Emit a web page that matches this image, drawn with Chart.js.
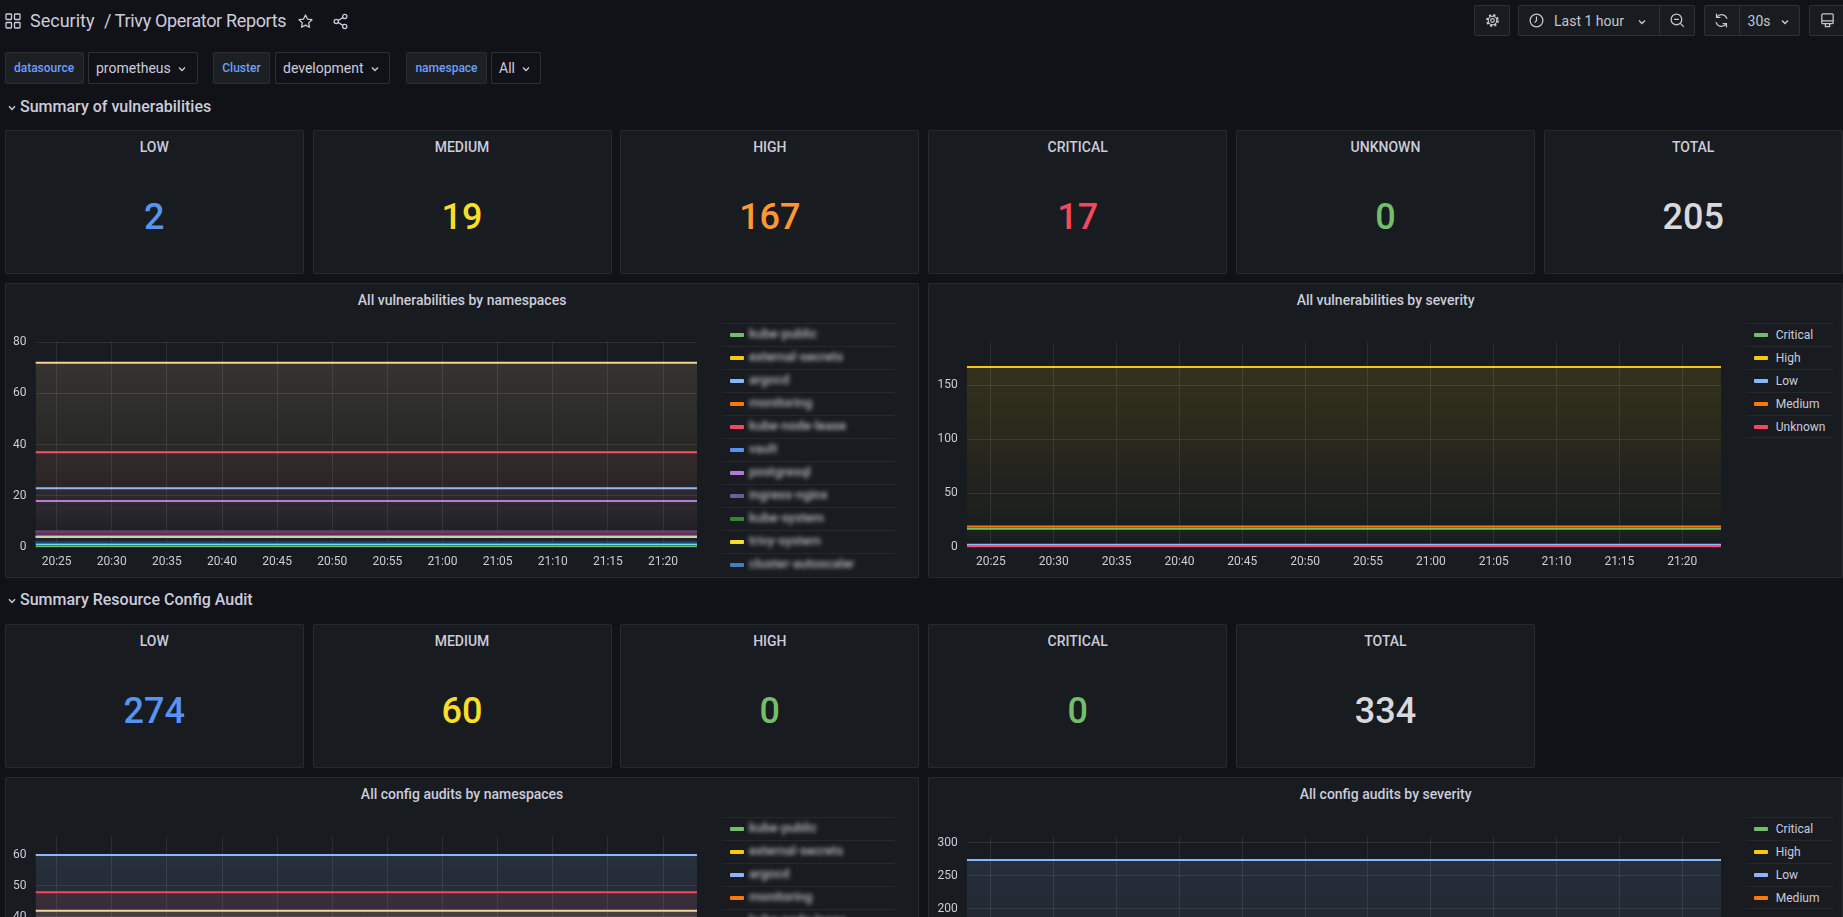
<!DOCTYPE html>
<html>
<head>
<meta charset="utf-8">
<script src="https://cdn.jsdelivr.net/npm/chart.js@4.4.1/dist/chart.umd.min.js"></script>
<style>
html,body{margin:0;padding:0;background:#111217;width:1843px;height:917px;overflow:hidden;font-family:Roboto,"Helvetica Neue",Arial,sans-serif;color:#ccccdc;}
.abs{position:absolute;}
.abs > svg{display:block;}
.panel{position:absolute;background:#181b1f;border:1px solid rgba(204,204,220,0.09);border-radius:2px;box-sizing:border-box;}
.ptitle{position:absolute;left:0;right:0;text-align:center;font-size:14px;font-weight:500;line-height:16px;color:#ccccdc;white-space:nowrap;}
.statval{position:absolute;left:0;right:0;text-align:center;font-size:36px;font-weight:500;line-height:40px;}
.btn{position:absolute;top:4.5px;height:31px;background:#181b1f;border:1px solid rgba(204,204,220,0.13);border-radius:2px;box-sizing:border-box;}
.btntxt{position:absolute;top:6px;font-size:14px;line-height:18px;color:#c4c5ce;white-space:nowrap;}
.vlabel{position:absolute;top:52px;height:32px;background:#1c1f24;border:1px solid rgba(204,204,220,0.08);border-radius:2px;box-sizing:border-box;color:#6e9fff;font-size:12px;font-weight:500;line-height:30px;text-align:center;}
.vvalue{position:absolute;top:52px;height:32px;background:#111217;border:1px solid rgba(204,204,220,0.16);border-radius:2px;box-sizing:border-box;color:#ccccdc;font-size:14px;line-height:30px;padding-left:7px;white-space:nowrap;}
.rowhdr{position:absolute;left:20px;font-size:16px;font-weight:500;line-height:20px;color:#ccccdc;}
.leg{position:absolute;overflow:hidden;}
.legrow{position:relative;height:23px;border-top:1px solid rgba(204,204,220,0.08);box-sizing:border-box;}
.legsw{position:absolute;top:9px;width:14px;height:4px;border-radius:1px;}
.legtx{position:absolute;top:3px;font-size:12px;line-height:16px;color:#ccccdc;white-space:nowrap;}
.blur{filter:blur(2px);color:#e4e5f0;font-size:13px;font-weight:500;top:2px;opacity:0.75;}
canvas{position:absolute;}
</style>
</head>
<body>
<script>
// ---------------- DATA ----------------
const vulnStatCategories = ['LOW','MEDIUM','HIGH','CRITICAL','UNKNOWN','TOTAL'];
const vulnStatValues     = [2, 19, 167, 17, 0, 205];
const auditStatCategories = ['LOW','MEDIUM','HIGH','CRITICAL','TOTAL'];
const auditStatValues     = [274, 60, 0, 0, 334];

const timeRange = ['20:23:05', '21:23:05'];
const timeTickLabels = ['20:25','20:30','20:35','20:40','20:45','20:50','20:55','21:00','21:05','21:10','21:15','21:20'];

// namespace names are redacted in the reference; placeholders are rendered blurred
const namespaces = ['kube-public','external-secrets','argocd','monitoring','kube-node-lease','vault','postgresql',
  'ingress-nginx','kube-system','trivy-system','cluster-autoscaler','default','redis','rabbitmq','elastic-system',
  'jaeger','loki','kafka','minio'];
const vulnByNamespace  = [0, 4, 23, 2, 37, 6, 18, 6, 5, 4, 2, 2, 6, 2, 5, 6, 4, 72, 1];
const auditByNamespace = [12, 8, 60, 6, 48, 20, 36, 9, 4, 15, 11, 14, 3, 7, 5, 10, 2, 42, 22];

const vulnSeverityNames  = ['Critical','High','Low','Medium','Unknown'];
const vulnBySeverity     = [17, 167, 2, 19, 0];
const auditSeverityNames = ['Critical','High','Low','Medium'];
const auditBySeverity    = [0, 0, 274, 60];

// ---------------- STYLE ----------------
const PALETTE = ['#73BF69','#F2CC0C','#8AB8FF','#FF780A','#F2495C','#5794F2','#B877D9','#705DA0','#37872D',
  '#FADE2A','#447EBC','#C15C17','#890F02','#0A437C','#6D1F62','#584477','#B7DBAB','#F4D598','#70DBED'];
const STAT_COLORS = {LOW:'#5794F2', MEDIUM:'#FADE2A', HIGH:'#FF9830', CRITICAL:'#F2495C', UNKNOWN:'#73BF69', TOTAL:'#d8d9de'};
const GRID = 'rgba(240,250,255,0.09)';
const M = 4.7, G = 8.7, STAT_W = 299.1, CHART_W = 914.8;
const COLS = [
  {plotL:30.5, plotR:690.7, legL:717.3, legR:890.3, blur:true},
  {plotL:38.8, plotR:792.3, legL:817.6, legR:905.8, blur:false}
];

function toMin(s){const p=s.split(':').map(Number);return p[0]*60+p[1]+(p[2]||0)/60;}
function rgba(hex,a){const n=parseInt(hex.slice(1),16);return `rgba(${(n>>16)&255},${(n>>8)&255},${n&255},${a})`;}
function el(tag,cls,style,html){const e=document.createElement(tag);if(cls)e.className=cls;if(style)e.style.cssText=style;if(html!==undefined)e.innerHTML=html;return e;}

const chev = '<svg width="8" height="6" viewBox="0 0 8 6" style="margin-left:7px;vertical-align:1px"><path d="M1 1.5 L4 4.5 L7 1.5" fill="none" stroke="#ccccdc" stroke-width="1.3"/></svg>';

// ---------------- HEADER ----------------
document.body.appendChild(el('div','abs','left:5px;top:13px;width:16px;height:16px',
 '<svg width="16" height="16" viewBox="0 0 16 16" fill="none" stroke="#ccccdc" stroke-width="1.3"><rect x="1" y="1" width="5.5" height="5.5" rx="0.8"/><rect x="9.5" y="1" width="5.5" height="5.5" rx="0.8"/><rect x="1" y="9.5" width="5.5" height="5.5" rx="0.8"/><rect x="9.5" y="9.5" width="5.5" height="5.5" rx="0.8"/></svg>'));
document.body.appendChild(el('div','abs','left:30px;top:10px;font-size:18px;line-height:22px;color:#ccccdc;white-space:nowrap','Security'));
document.body.appendChild(el('div','abs','left:104px;top:10px;font-size:18px;line-height:22px;color:#ccccdc;white-space:nowrap;letter-spacing:-0.35px','/ Trivy Operator Reports'));
document.body.appendChild(el('div','abs','left:297px;top:12.5px;width:17px;height:17px',
 '<svg width="17" height="17" viewBox="0 0 24 24" fill="none" stroke="#ccccdc" stroke-width="1.8" stroke-linejoin="round"><path d="M12 2.8l2.8 5.8 6.3.9-4.6 4.4 1.1 6.3L12 17.2l-5.6 3 1.1-6.3-4.6-4.4 6.3-.9z"/></svg>'));
document.body.appendChild(el('div','abs','left:332px;top:12.5px;width:17px;height:17px',
 '<svg width="17" height="17" viewBox="0 0 24 24" fill="none" stroke="#ccccdc" stroke-width="1.8"><circle cx="18" cy="5" r="3"/><circle cx="6" cy="12" r="3"/><circle cx="18" cy="19" r="3"/><path d="M8.6 10.5l6.8-4M8.6 13.5l6.8 4"/></svg>'));

// toolbar buttons
const gear = '<svg width="17" height="17" viewBox="0 0 24 24" fill="none" stroke="#c4c5ce"><circle cx="12" cy="12" r="7.5" stroke-width="3.2" stroke-dasharray="3.1 2.8"/><circle cx="12" cy="12" r="6" stroke-width="1.6" fill="#181b1f"/><circle cx="12" cy="12" r="2.6" stroke-width="1.6"/></svg>';
document.body.appendChild(el('div','btn','left:1474px;width:36px','<div class="abs" style="left:9px;top:6px">'+gear+'</div>'));
const clock = '<svg width="17" height="17" viewBox="0 0 24 24" fill="none" stroke="#c4c5ce" stroke-width="1.8"><circle cx="12" cy="12" r="9"/><path d="M12 6.5V12l-2.5 3"/></svg>';
const zoomout = '<svg width="17" height="17" viewBox="0 0 24 24" fill="none" stroke="#c4c5ce" stroke-width="1.8"><circle cx="10.5" cy="10.5" r="7.5"/><path d="M7 10.5h7M16 16l5 5"/></svg>';
const tg = el('div','btn','left:1518px;width:177px');
tg.innerHTML = '<div class="abs" style="left:9px;top:6px">'+clock+'</div>'+
 '<div class="btntxt" style="left:35px">Last 1 hour'+chev.replace('margin-left:7px','margin-left:14px')+'</div>'+
 '<div class="abs" style="left:140px;top:0;width:1px;height:29px;background:rgba(204,204,220,0.13)"></div>'+
 '<div class="abs" style="left:150px;top:6px">'+zoomout+'</div>';
document.body.appendChild(tg);
const refresh = '<svg width="17" height="17" viewBox="0 0 24 24" fill="none" stroke="#c4c5ce" stroke-width="1.8" stroke-linecap="round"><path d="M19.5 9A8 8 0 0 0 5.2 7.5M4.5 15a8 8 0 0 0 14.3 1.5"/><path d="M5 3v4.7h4.7M19 21v-4.7h-4.7"/></svg>';
const rg = el('div','btn','left:1703.6px;width:96px');
rg.innerHTML = '<div class="abs" style="left:8.5px;top:6px">'+refresh+'</div>'+
 '<div class="abs" style="left:34px;top:0;width:1px;height:29px;background:rgba(204,204,220,0.13)"></div>'+
 '<div class="btntxt" style="left:43px">30s'+chev.replace('margin-left:7px','margin-left:10px')+'</div>';
document.body.appendChild(rg);
const tv = '<svg width="17" height="17" viewBox="0 0 24 24" fill="none" stroke="#c4c5ce" stroke-width="1.8"><rect x="4" y="2.5" width="16" height="14" rx="1.5"/><path d="M4 12.5h16M9 16.5v4h6v-4"/></svg>';
document.body.appendChild(el('div','btn','left:1808.5px;width:38px','<div class="abs" style="left:9px;top:6px">'+tv+'</div>'));

// variables row
document.body.appendChild(el('div','vlabel','left:4.5px;width:79px','datasource'));
document.body.appendChild(el('div','vvalue','left:88px;width:110px','prometheus'+chev));
document.body.appendChild(el('div','vlabel','left:213px;width:57px','Cluster'));
document.body.appendChild(el('div','vvalue','left:275px;width:115px','development'+chev));
document.body.appendChild(el('div','vlabel','left:406px;width:81px','namespace'));
document.body.appendChild(el('div','vvalue','left:491px;width:50px','All'+chev));

// row headers
function rowHeader(cy, text){
  document.body.appendChild(el('div','abs',`left:8px;top:${cy-2}px`,'<svg width="8" height="6" viewBox="0 0 8 6"><path d="M1 1.2 L4 4.4 L7 1.2" fill="none" stroke="#ccccdc" stroke-width="1.4"/></svg>'));
  document.body.appendChild(el('div','rowhdr',`top:${cy-10}px`,text));
}
rowHeader(107,'Summary of vulnerabilities');
rowHeader(600,'Summary Resource Config Audit');

// ---------------- STAT PANELS ----------------
function statRow(top, cats, vals){
  cats.forEach((c,i)=>{
    const p = el('div','panel',`left:${M+i*(STAT_W+G)}px;top:${top}px;width:${STAT_W}px;height:144px`);
    p.appendChild(el('div','ptitle','top:7.7px',c));
    const col = c==='TOTAL' ? STAT_COLORS.TOTAL : (vals[i]===0 ? '#73BF69' : STAT_COLORS[c]);
    p.appendChild(el('div','statval',`top:66px;color:${col}`,String(vals[i])));
    document.body.appendChild(p);
  });
}
statRow(130, vulnStatCategories, vulnStatValues);
statRow(624, auditStatCategories, auditStatValues);

// ---------------- TIME SERIES PANELS ----------------
const tickVals = timeTickLabels.map(toMin);
const x0 = toMin(timeRange[0]), x1 = toMin(timeRange[1]);

function grad(ctx, color){
  const ch = ctx.chart, a = ch.chartArea;
  if(!a) return rgba(color,0);
  const g = ch.ctx.createLinearGradient(0, a.top, 0, a.bottom);
  g.addColorStop(0, rgba(color,0.15));
  g.addColorStop(1, rgba(color,0));
  return g;
}

function tsPanel(col, top, title, names, values, yMax, yStep){
  const C = COLS[col];
  const left = M + col*(CHART_W+G);
  const p = el('div','panel',`left:${left}px;top:${top}px;width:${CHART_W}px;height:295px`);
  p.appendChild(el('div','ptitle','top:8px',title));
  document.body.appendChild(p);
  const cvL = 1, cvT = 39, cvW = Math.round(C.plotR - cvL + 2), cvH = 250;
  const yw = C.plotL - 1 - cvL, xh = 290 - 264;
  const cv = el('canvas','',`left:${cvL}px;top:${cvT}px;width:${cvW}px;height:${cvH}px`);
  cv.width = cvW; cv.height = cvH;
  p.appendChild(cv);
  const colors = names.map((n,i)=>PALETTE[i]);
  const datasets = names.map((n,i)=>({
    label:n,
    data:[{x:x0,y:values[i]},{x:x1,y:values[i]}],
    borderColor:colors[i], borderWidth:2, pointRadius:0, tension:0,
    fill:'origin', order:names.length-i,
    backgroundColor:(ctx)=>grad(ctx, colors[i])
  }));
  new Chart(cv,{type:'line',data:{datasets},options:{
    responsive:false, animation:false, devicePixelRatio:1,
    layout:{padding:{top:57.3-cvT+1, right:2, left:0, bottom:0}},
    plugins:{legend:{display:false}, tooltip:{enabled:false}},
    scales:{
      x:{type:'linear', min:x0, max:x1,
        afterBuildTicks:(s)=>{s.ticks = tickVals.map(v=>({value:v}));},
        afterFit:(s)=>{s.height = xh;},
        ticks:{autoSkip:false, maxRotation:0, padding:8, color:'#ccccdc', font:{family:'Roboto',size:12},
          callback:(v,i)=>timeTickLabels[i]},
        grid:{color:GRID, drawTicks:false, lineWidth:1}, border:{display:false}},
      y:{min:0, max:yMax,
        afterBuildTicks:(s)=>{const t=[];for(let k=0;k*yStep<=yMax+1e-9;k++)t.push({value:k*yStep});s.ticks=t;},
        afterFit:(s)=>{s.width = yw;},
        ticks:{stepSize:yStep, padding:9, color:'#ccccdc', font:{family:'Roboto',size:12}},
        grid:{color:GRID, drawTicks:false, lineWidth:1}, border:{display:false}}
    }
  }});
  // legend (table style list)
  const lg = el('div','leg',`left:${C.legL-1}px;top:39.6px;width:${C.legR-C.legL}px;height:${295-39.6-6}px`);
  names.forEach((n,i)=>{
    const r = el('div','legrow','');
    if(i===names.length-1) r.style.borderBottom='1px solid rgba(204,204,220,0.08)';
    r.appendChild(el('div','legsw',`left:8px;background:${colors[i]}`));
    r.appendChild(el('div','legtx'+(C.blur?' blur':''),`left:${C.blur?27:30}px`,n));
    lg.appendChild(r);
  });
  p.appendChild(lg);
}

tsPanel(0, 282.5, 'All vulnerabilities by namespaces', namespaces, vulnByNamespace, 80, 20);
tsPanel(1, 282.5, 'All vulnerabilities by severity', vulnSeverityNames, vulnBySeverity, 190, 50);
tsPanel(0, 776.7, 'All config audits by namespaces', namespaces, auditByNamespace, 66, 10);
tsPanel(1, 776.7, 'All config audits by severity', auditSeverityNames, auditBySeverity, 310, 50);
</script>
</body>
</html>
